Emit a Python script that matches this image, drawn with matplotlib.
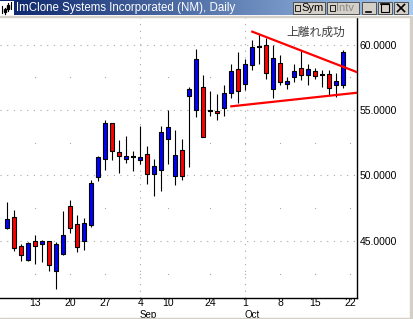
import matplotlib.pyplot as plt
import matplotlib.patches as mpatches
import matplotlib.transforms as mtransforms
import numpy as np

plt.rcParams['font.family'] = ['Liberation Sans', 'DejaVu Sans']

W, H = 413, 319

# daily bars, Aug 7 .. Oct 19 (trading days only)
opens = [46.02, 46.81, 44.64, 43.53, 44.98, 44.75, 44.98, 42.69, 43.99, 47.67,
         46.27, 44.98, 46.20, 49.86, 51.24, 53.98, 51.77, 51.28, 51.39, 51.16,
         51.64, 50.14, 50.44, 52.76, 49.94, 51.92, 56.05, 55.02, 56.73, 54.95,
         54.92, 55.13, 56.27, 58.10, 57.00, 58.45, 59.79, 59.94, 56.60, 58.57,
         56.98, 57.50, 58.18, 57.69, 57.98, 57.67, 57.77, 56.91, 56.89]
highs = [47.98, 47.37, 44.77, 44.95, 45.46, 45.08, 45.02, 44.95, 47.29, 48.10,
         46.98, 46.73, 49.63, 51.49, 54.24, 54.02, 52.71, 53.02, 51.87, 53.78,
         52.25, 51.26, 53.76, 55.00, 53.47, 52.79, 56.73, 59.66, 57.67, 56.45,
         56.22, 56.91, 58.49, 59.39, 58.87, 60.32, 60.78, 60.47, 59.96, 59.20,
         57.52, 58.51, 59.59, 58.49, 58.18, 58.05, 58.05, 57.85, 59.61]
lows = [45.90, 44.24, 43.50, 43.50, 43.24, 43.42, 42.69, 41.30, 43.90, 45.63,
        44.18, 44.31, 46.10, 49.56, 50.42, 51.18, 50.17, 50.93, 50.37, 50.90,
        49.37, 48.46, 48.84, 50.90, 49.30, 49.68, 50.67, 54.49, 52.96, 54.56,
        54.24, 54.54, 55.89, 55.51, 56.53, 58.05, 58.49, 57.37, 55.89, 56.91,
        56.60, 57.16, 57.29, 56.89, 57.37, 56.73, 56.15, 56.02, 56.66]
closes = [46.66, 44.45, 43.91, 44.82, 44.64, 44.98, 43.15, 44.75, 45.43, 45.97,
          44.52, 46.35, 49.40, 51.39, 53.98, 51.85, 51.47, 51.47, 51.39, 51.39,
          50.14, 50.73, 53.30, 53.68, 51.54, 49.94, 56.58, 58.87, 52.96, 54.95,
          54.75, 56.30, 57.96, 56.47, 58.51, 59.82, 59.79, 57.85, 58.94, 57.12,
          57.19, 57.98, 57.65, 58.10, 57.57, 57.67, 56.68, 57.19, 59.43]

day_labels = ['13', '20', '27', '4', '10', '24', '1', '8', '15', '22']
day_pos = [4, 9, 14, 19, 23, 29, 34, 39, 44, 49]
month_labels = ['Sep', 'Oct']
month_pos = [19, 34]
price_ticks = [45, 50, 55, 60]
half_levels = [42.5, 47.5, 52.5, 57.5]

upper_x = [35, 50]
upper_y = [60.98, 57.88]
lower_x = [32, 50]
lower_y = [55.28, 56.32]

title = 'ImClone Systems Incorporated (NM), Daily'
note = '上離れ成功'

fig = plt.figure(figsize=(W / 100, H / 100), dpi=100)
fig.patch.set_facecolor('white')

# ---- chart area ----
ax_l, ax_r, ax_t, ax_b = 0, 357.3, 17, 297.7
ax = fig.add_axes([ax_l / W, 1 - ax_b / H, (ax_r - ax_l) / W, (ax_b - ax_t) / H])
ax.set_xlim(-1.04, 50.0)
ax.set_ylim(40.67, 62.1)
for s in ['top', 'left']:
    ax.spines[s].set_visible(False)
ax.spines['right'].set_linewidth(1.0)
ax.spines['bottom'].set_linewidth(1.0)

grid_c = '#a8a8a8'
for p in price_ticks:
    ax.axhline(p, color=grid_c, lw=0.8, linestyle=(0, (1, 5)), zorder=0)
for m in month_pos:
    ax.axvline(m, color=grid_c, lw=0.8, linestyle=(0, (1, 5)), zorder=0)
gx, gy = np.meshgrid(day_pos, half_levels)
ax.plot(gx.ravel(), gy.ravel(), linestyle='none', marker='s', ms=0.8,
        color=grid_c, mec='none', zorder=0)

idx = np.arange(len(opens))
o = np.array(opens)
c = np.array(closes)
ax.vlines(idx, lows, highs, color='black', lw=0.8, zorder=2)
up = c > o
dn = c < o
doji = c == o
ax.bar(idx[up], (c - o)[up], 0.6, bottom=o[up], color='#0000ff',
       edgecolor='black', linewidth=0.8, zorder=3)
ax.bar(idx[dn], (o - c)[dn], 0.6, bottom=c[dn], color='#ff0000',
       edgecolor='black', linewidth=0.8, zorder=3)
ax.hlines(c[doji], idx[doji] - 0.38, idx[doji] + 0.38, color='black', lw=1.5, zorder=3)

ax.plot(upper_x, upper_y, color='#ff0000', lw=1.6, zorder=4)
ax.plot(lower_x, lower_y, color='#ff0000', lw=1.6, zorder=4)

ax.text(44.1, 60.9, note, ha='center', va='center', fontsize=8.5,
        color='#404040', family=['Noto Sans CJK JP', 'DejaVu Sans'])

ax.yaxis.tick_right()
ax.set_yticks(price_ticks)
ax.set_yticklabels(['{:.4f}'.format(p) for p in price_ticks])
ax.tick_params(axis='y', length=0, pad=1.5, labelsize=7.5)
ax.set_xticks(day_pos)
ax.set_xticklabels(day_labels)
ax.tick_params(axis='x', length=0, pad=0.5, labelsize=7.5)
trans = mtransforms.blended_transform_factory(ax.transData, ax.transAxes)
for m, lab in zip(month_pos, month_labels):
    ax.text(m - 0.05, -0.063, lab, transform=trans, ha='left', va='center', fontsize=7)

# ---- window chrome (pixel coordinates) ----
ov = fig.add_axes([0, 0, 1, 1], zorder=5)
ov.set_xlim(0, W)
ov.set_ylim(H, 0)
ov.axis('off')
ov.patch.set_alpha(0)

grad = np.linspace(0, 1, 256)
c0 = np.array([0x0a, 0x24, 0x6a]) / 255
c1 = np.array([0xa6, 0xca, 0xf0]) / 255
img = (c0[None, :] * (1 - grad[:, None]) + c1[None, :] * grad[:, None])[None, :, :]
ov.imshow(img, extent=(0, W, 15.5, 0), aspect='auto', zorder=1)
ov.add_patch(mpatches.Rectangle((0, 15.5), W, 1.5, color='#d4d0c8', zorder=1))
ov.text(16, 8, title, color='white', fontsize=8.3, ha='left', va='center', zorder=2)

# little chart icon
ov.add_patch(mpatches.Rectangle((0, 1), 14, 14, facecolor='white', edgecolor='none', zorder=2))
for xx, y0, y1 in [(2, 6, 13), (5, 8, 14), (8, 3, 11), (11, 2, 9)]:
    ov.plot([xx, xx], [y0, y1], color='black', lw=0.8, zorder=3)
for xx, y0, y1 in [(5, 9, 12), (8, 5, 9)]:
    ov.add_patch(mpatches.Rectangle((xx - 1, y0), 2, y1 - y0, color='black', zorder=3))


def button(x0, x1, y0=2, y1=14):
    ov.add_patch(mpatches.Rectangle((x0, y0), x1 - x0, y1 - y0, facecolor='#d4d0c8',
                                    edgecolor='#404040', lw=0.6, zorder=2))


button(292.7, 325)
button(327, 359)
ov.add_patch(mpatches.Rectangle((295, 4.5), 5, 6, facecolor='#d4d0c8', edgecolor='black', lw=0.6, zorder=3))
ov.text(301, 8, 'Sym', fontsize=8, ha='left', va='center', color='black', zorder=3)
ov.add_patch(mpatches.Rectangle((329.5, 4.5), 5, 6, facecolor='#d4d0c8', edgecolor='black', lw=0.6, zorder=3))
ov.text(336, 8, 'Intv', fontsize=8, ha='left', va='center', color='#8a8a8a', zorder=3)
button(362, 376)
ov.plot([366, 371], [11.5, 11.5], color='black', lw=1.2, zorder=3)
button(378, 392)
ov.add_patch(mpatches.Rectangle((381, 4), 8, 7.5, facecolor='none', edgecolor='black', lw=0.8, zorder=3))
ov.plot([381, 389], [4.4, 4.4], color='black', lw=1.2, zorder=3)
button(394, 408)
ov.plot([397.5, 404.5], [4.5, 11.5], color='black', lw=1.2, zorder=3)
ov.plot([397.5, 404.5], [11.5, 4.5], color='black', lw=1.2, zorder=3)

# window frame bits
ov.add_patch(mpatches.Rectangle((410, 17), 3, H - 17, color='#d4d0c8', zorder=1))
ov.add_patch(mpatches.Rectangle((0, 318), W, 1, color='#d4d0c8', zorder=1))

fig.savefig('out.png', dpi=100)
